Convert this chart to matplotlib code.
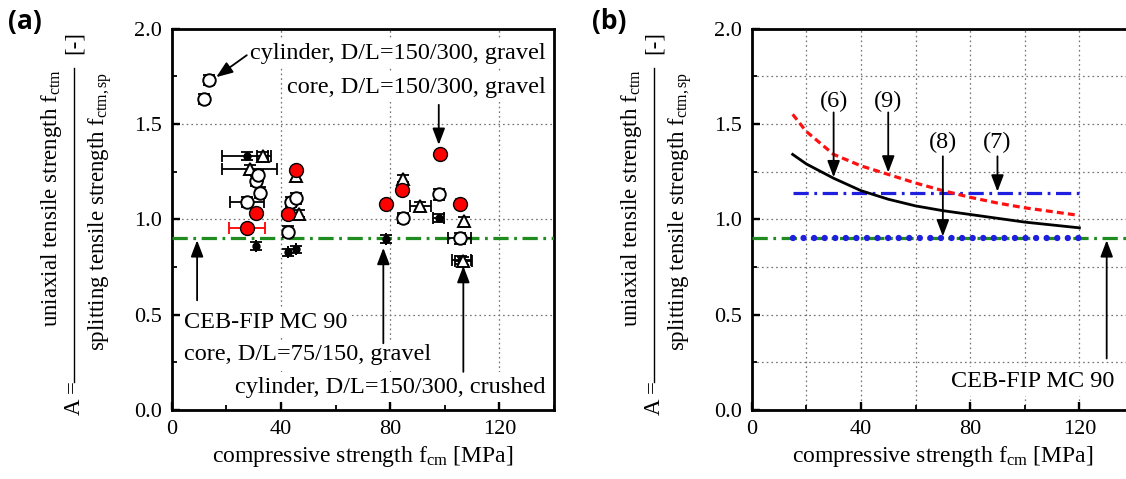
import matplotlib
matplotlib.use("Agg")
import matplotlib.pyplot as plt
from matplotlib.lines import Line2D
from matplotlib.ticker import MultipleLocator

plt.rcParams['font.family'] = ['Liberation Serif', 'DejaVu Serif']
plt.rcParams['mathtext.fontset'] = 'custom'
plt.rcParams['mathtext.rm'] = 'Liberation Serif'
plt.rcParams['mathtext.it'] = 'Liberation Serif:italic'
plt.rcParams['lines.scale_dashes'] = False

# ---- panel (a) data: A vs f_cm ----
circ_x = [11.9, 13.8, 30.9, 31.5, 32.4, 27.5, 42.6, 43.6, 45.4, 84.8, 97.8, 105.5]
circ_y = [1.63, 1.73, 1.20, 1.23, 1.14, 1.09, 0.935, 1.09, 1.11, 1.007, 1.13, 0.90]
circ_xerr = [0, 0, 0, 0, 0, 6.2, 0, 0, 0, 0, 0, 4.2]

tri_x = [28.5, 33.4, 45.7, 46.5, 84.8, 91.1, 107.2, 106.8]
tri_y = [1.265, 1.33, 1.225, 1.03, 1.213, 1.068, 0.99, 0.78]
tri_xerr = [10, 2, 0, 0, 0, 3.7, 0, 3]

red_x = [27.5, 30.9, 42.6, 45.5, 78.3, 84.4, 98.1, 105.5]
red_y = [0.956, 1.035, 1.028, 1.256, 1.078, 1.152, 1.34, 1.078]
red_xerr = [6.5, 0, 0, 0, 0, 0, 0, 1.5]

dot_x = [27.5, 31.0, 42.6, 45.6, 78.3, 84.6, 97.8, 106.0]
dot_y = [1.33, 0.86, 0.826, 0.842, 0.895, 1.0, 1.007, 0.785]
dot_xerr = [9, 0, 0, 0, 0, 0, 2, 3.5]

A_mc90 = 0.9

# ---- panel (b) data: model curves ----
fcm = [15, 20, 30, 40, 50, 60, 70, 80, 90, 100, 110, 120]
A_eq6 = [1.34, 1.29, 1.215, 1.15, 1.105, 1.07, 1.045, 1.025, 1.005, 0.985, 0.97, 0.955]
A_eq9 = [1.55, 1.46, 1.34, 1.28, 1.235, 1.19, 1.15, 1.115, 1.085, 1.06, 1.04, 1.02]
fcm_const = [15, 120]
A_eq7 = [1.14, 1.14]
A_eq8 = [0.9, 0.9]

W, H = 1126, 479
fig = plt.figure(figsize=(W / 100, H / 100), dpi=100)


def fx(px):
    return px / W


def fy(py):
    return 1 - py / H


ax_w = (554 - 171.7) / W
ax_h = (410 - 28.5) / H
ax_a = fig.add_axes([fx(171.7), fy(410), ax_w, ax_h])
ax_b = fig.add_axes([fx(751.7), fy(410), ax_w, ax_h])

grid_kw = dict(color='0.45', linestyle=(0, (1.2, 2.2)), linewidth=0.9)
box = dict(facecolor='white', edgecolor='none', pad=3)
arrow_kw = dict(arrowstyle='-|>,head_length=1.0,head_width=0.38', color='black', lw=1.3,
                shrinkA=0, shrinkB=0)

for ax in (ax_a, ax_b):
    ax.set_xlim(0, 140)
    ax.set_ylim(0, 2.0)
    ax.xaxis.set_major_locator(MultipleLocator(40))
    ax.xaxis.set_minor_locator(MultipleLocator(20))
    ax.yaxis.set_major_locator(MultipleLocator(0.5))
    ax.yaxis.set_minor_locator(MultipleLocator(0.25))
    ax.tick_params(which='major', direction='in', length=6, width=1.7, labelsize=16, pad=7)
    ax.tick_params(which='minor', direction='in', length=3.5, width=1.3)
    ax.yaxis.set_major_formatter(matplotlib.ticker.FormatStrFormatter('%.1f'))
    for s in ax.spines.values():
        s.set_linewidth(2.0)
    ax.set_axisbelow(True)
    ax.set_xlabel(r'compressive strength f$_{\mathrm{cm}}$ [MPa]', fontsize=17, labelpad=4)

# ---- panel (a) ----
ax_a.grid(True, which='major', **grid_kw)
ax_a.plot([0, 140], [A_mc90, A_mc90], color='#1e8c1e', lw=2.3, dashes=[11, 4, 2, 4], zorder=3)

eb = dict(fmt='none', ecolor='black', elinewidth=1.3, capsize=4.5, capthick=1.3, zorder=4)
ax_a.errorbar(dot_x, dot_y, xerr=dot_xerr, yerr=0.02, **eb)
ax_a.errorbar(tri_x, tri_y, xerr=tri_xerr, yerr=0.02, **eb)
ax_a.errorbar(circ_x, circ_y, xerr=circ_xerr, yerr=0.028, **eb)
ax_a.errorbar(red_x, red_y, xerr=red_xerr, fmt='none', ecolor='red', elinewidth=1.3,
              capsize=4.5, capthick=1.3, zorder=4)

ax_a.plot(dot_x, dot_y, 'o', ms=5, mfc='black', mec='black', zorder=5)
ax_a.plot(tri_x, tri_y, '^', ms=8.5, mfc='white', mec='black', mew=1.4, zorder=5)
ax_a.plot(circ_x, circ_y, 'o', ms=9, mfc='white', mec='black', mew=1.4, zorder=5)
ax_a.plot(red_x, red_y, 'o', ms=10, mfc='red', mec='black', mew=1.0, zorder=6)

txt = dict(fontsize=17.5, bbox=box, zorder=2)
ax_a.text(137, 1.87, 'cylinder, D/L=150/300, gravel', ha='right', va='center', **txt)
ax_a.text(137, 1.69, 'core, D/L=150/300, gravel', ha='right', va='center', **txt)
ax_a.text(4.5, 0.46, 'CEB-FIP MC 90', ha='left', va='center', **txt)
ax_a.text(4.5, 0.29, 'core, D/L=75/150, gravel', ha='left', va='center', **txt)
ax_a.text(137, 0.12, 'cylinder, D/L=150/300, crushed', ha='right', va='center', **txt)

ax_a.annotate('', xy=(16.3, 1.745), xytext=(27.5, 1.86), arrowprops=arrow_kw, zorder=7)
ax_a.annotate('', xy=(97.8, 1.39), xytext=(97.8, 1.6), arrowprops=arrow_kw, zorder=7)
ax_a.annotate('', xy=(9.3, 0.89), xytext=(9.3, 0.575), arrowprops=arrow_kw, zorder=7)
ax_a.annotate('', xy=(77.5, 0.85), xytext=(77.5, 0.35), arrowprops=arrow_kw, zorder=7)
ax_a.annotate('', xy=(106.8, 0.755), xytext=(106.8, 0.2), arrowprops=arrow_kw, zorder=7)

# ---- panel (b) ----
ax_b.grid(True, which='both', **grid_kw)
ax_b.plot([0, 140], [A_mc90, A_mc90], color='#1e8c1e', lw=2.3, dashes=[11, 4, 2, 4], zorder=3)
ax_b.plot(fcm_const, A_eq8, color='#1f1fe0', lw=4.6, dashes=[0.01, 7.6],
          dash_capstyle='round', zorder=4)
ax_b.plot(fcm_const, A_eq7, color='#1f1fe0', lw=2.3, dashes=[11, 4, 2, 4], zorder=4)
ax_b.plot(fcm, A_eq9, color='#ff1010', lw=2.3, dashes=[5, 3], zorder=4)
ax_b.plot(fcm, A_eq6, color='black', lw=2.0, zorder=4)

ax_b.text(30, 1.62, '(6)', ha='center', va='center', **txt)
ax_b.text(50, 1.62, '(9)', ha='center', va='center', **txt)
ax_b.text(70, 1.40, '(8)', ha='center', va='center', **txt)
ax_b.text(90, 1.40, '(7)', ha='center', va='center', **txt)
ax_b.text(103, 0.15, 'CEB-FIP MC 90', ha='center', va='center', **txt)

ax_b.annotate('', xy=(30, 1.22), xytext=(30, 1.56), arrowprops=arrow_kw, zorder=7)
ax_b.annotate('', xy=(50, 1.245), xytext=(50, 1.56), arrowprops=arrow_kw, zorder=7)
ax_b.annotate('', xy=(70, 0.91), xytext=(70, 1.33), arrowprops=arrow_kw, zorder=7)
ax_b.annotate('', xy=(90, 1.145), xytext=(90, 1.33), arrowprops=arrow_kw, zorder=7)
ax_b.annotate('', xy=(130, 0.89), xytext=(130, 0.27), arrowprops=arrow_kw, zorder=7)

# ---- y labels drawn as a fraction ----
for off in (0, 580):
    fig.text(fx(52 + off), fy(198), r'uniaxial tensile strength f$_{\mathrm{ctm}}$',
             rotation=90, ha='center', va='center', fontsize=16.5)
    fig.text(fx(100 + off), fy(211), r'splitting tensile strength f$_{\mathrm{ctm,sp}}$',
             rotation=90, ha='center', va='center', fontsize=16.5)
    fig.add_artist(Line2D([fx(74 + off), fx(74 + off)], [fy(382), fy(68)],
                          color='black', lw=1.0))
    fig.text(fx(74 + off), fy(398), 'A =', rotation=90, ha='center', va='center', fontsize=16.5)
    fig.text(fx(74 + off), fy(42), '[-]', rotation=90, ha='center', va='center', fontsize=16.5)

fig.text(fx(8), fy(8), '(a)', ha='left', va='top', fontsize=19, fontweight='bold',
         family='Open Sans')
fig.text(fx(592), fy(8), '(b)', ha='left', va='top', fontsize=19, fontweight='bold',
         family='Open Sans')

fig.savefig('out.png', dpi=100)
